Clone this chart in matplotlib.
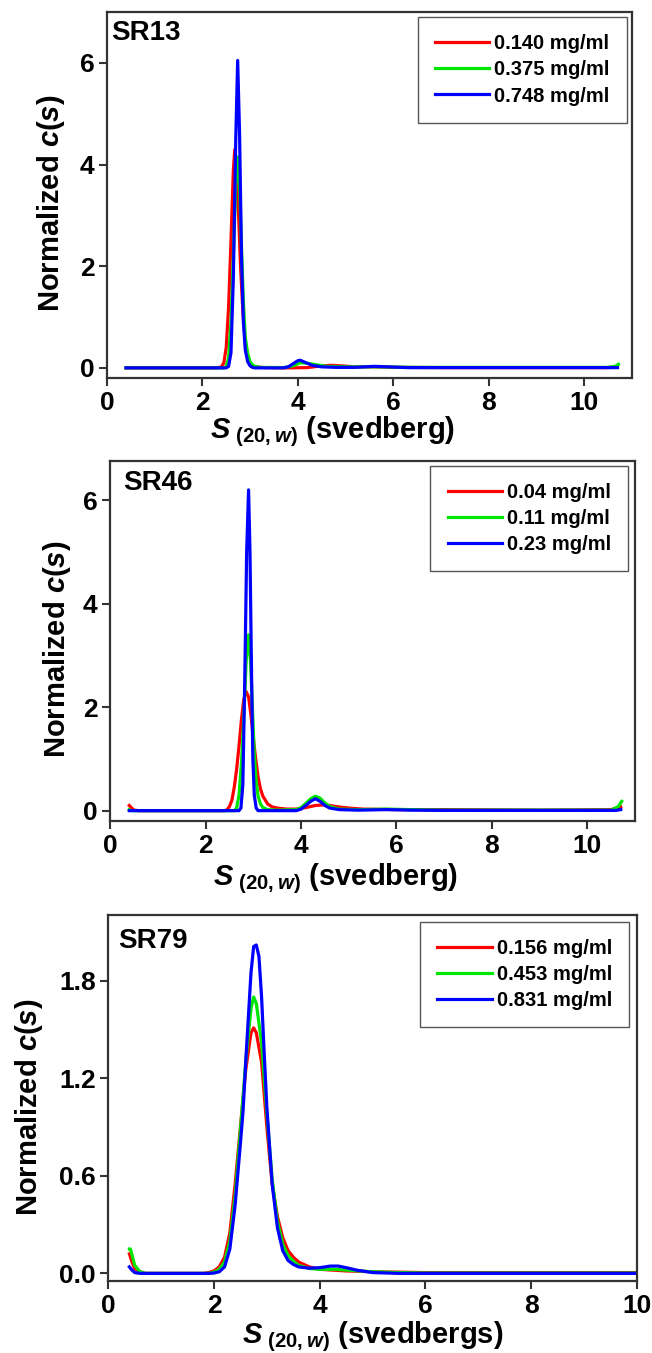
import matplotlib
matplotlib.use("Agg")
import matplotlib.pyplot as plt
from matplotlib import font_manager
from matplotlib.ticker import FormatStrFormatter

# ---------------- DATA ----------------
# Panel SR13
sr13_labels = ["0.140 mg/ml", "0.375 mg/ml", "0.748 mg/ml"]
sr13_red_s = [0.4, 2.3, 2.4, 2.45, 2.5, 2.55, 2.6, 2.65, 2.68, 2.72, 2.76, 2.8, 2.85, 2.9, 2.95, 3.0, 3.1,
              3.3, 3.8, 4.2, 4.5, 4.7, 4.9, 5.2, 5.6, 6.0, 7.0, 10.5, 10.7]
sr13_red_c = [0.0, 0.0, 0.02, 0.1, 0.4, 1.2, 2.5, 3.9, 4.3, 3.9, 3.0, 2.0, 1.1, 0.5, 0.2, 0.07, 0.02,
              0.005, 0.0, 0.005, 0.04, 0.05, 0.04, 0.02, 0.02, 0.01, 0.005, 0.005, 0.02]
sr13_green_s = [0.4, 2.45, 2.5, 2.55, 2.6, 2.65, 2.7, 2.74, 2.78, 2.82, 2.86, 2.9, 2.95, 3.0, 3.05, 3.1,
                3.2, 3.7, 3.9, 4.05, 4.2, 4.4, 4.6, 5.0, 5.6, 6.5, 10.5, 10.65, 10.72]
sr13_green_c = [0.0, 0.0, 0.03, 0.2, 0.9, 2.2, 3.6, 4.15, 3.6, 2.4, 1.3, 0.6, 0.28, 0.12, 0.06, 0.03,
                0.01, 0.005, 0.04, 0.1, 0.09, 0.06, 0.03, 0.02, 0.02, 0.01, 0.01, 0.03, 0.07]
sr13_blue_s = [0.4, 2.5, 2.55, 2.6, 2.65, 2.7, 2.74, 2.78, 2.82, 2.86, 2.9, 2.95, 3.0, 3.05, 3.1,
               3.7, 3.8, 3.9, 4.0, 4.05, 4.15, 4.3, 4.5, 4.8, 5.2, 5.6, 5.9, 6.3, 10.7]
sr13_blue_c = [0.0, 0.0, 0.03, 0.3, 1.8, 4.5, 6.05, 4.6, 2.2, 0.9, 0.35, 0.12, 0.04, 0.01, 0.0,
               0.0, 0.02, 0.08, 0.14, 0.15, 0.11, 0.05, 0.02, 0.01, 0.01, 0.03, 0.02, 0.005, 0.005]

# Panel SR46
sr46_labels = ["0.04 mg/ml", "0.11 mg/ml", "0.23 mg/ml"]
sr46_red_s = [0.4, 0.45, 0.5, 0.6, 2.4, 2.45, 2.5, 2.55, 2.6, 2.65, 2.7, 2.75, 2.8, 2.85, 2.9, 2.95,
              3.0, 3.05, 3.1, 3.15, 3.2, 3.3, 3.4, 3.5, 3.7, 3.9, 4.1, 4.3, 4.45, 4.6, 4.8, 5.0,
              5.3, 6.0, 7.0, 9.0, 10.5, 10.7]
sr46_red_c = [0.1, 0.05, 0.01, 0.0, 0.0, 0.02, 0.08, 0.2, 0.45, 0.8, 1.25, 1.75, 2.15, 2.3, 2.2, 1.85,
              1.4, 1.0, 0.65, 0.42, 0.28, 0.13, 0.07, 0.05, 0.03, 0.03, 0.06, 0.1, 0.11, 0.1, 0.07, 0.05,
              0.03, 0.02, 0.02, 0.01, 0.02, 0.07]
sr46_green_s = [0.4, 0.45, 2.6, 2.65, 2.7, 2.75, 2.8, 2.85, 2.9, 2.94, 2.98, 3.02, 3.06, 3.1, 3.15,
                3.2, 3.3, 3.5, 3.9, 4.0, 4.1, 4.2, 4.3, 4.4, 4.5, 4.6, 4.8, 5.2, 5.8, 6.3, 7.0,
                10.5, 10.65, 10.72]
sr46_green_c = [0.02, 0.0, 0.0, 0.05, 0.3, 0.9, 1.8, 2.9, 3.4, 2.9, 2.0, 1.1, 0.55, 0.28, 0.13,
                0.06, 0.02, 0.01, 0.02, 0.06, 0.14, 0.23, 0.28, 0.24, 0.15, 0.08, 0.03, 0.02, 0.03, 0.02, 0.01,
                0.01, 0.08, 0.18]
sr46_blue_s = [0.4, 2.7, 2.74, 2.78, 2.82, 2.86, 2.9, 2.93, 2.96, 2.99, 3.02, 3.06, 3.1, 3.9, 4.0,
               4.1, 4.2, 4.3, 4.4, 4.5, 4.6, 4.8, 5.2, 5.8, 6.3, 7.0, 10.6, 10.7]
sr46_blue_c = [0.0, 0.0, 0.05, 0.5, 2.5, 5.0, 6.2, 5.0, 2.8, 1.0, 0.3, 0.05, 0.0, 0.0, 0.03,
               0.1, 0.18, 0.23, 0.18, 0.1, 0.05, 0.02, 0.01, 0.02, 0.01, 0.005, 0.005, 0.02]

# Panel SR79
sr79_labels = ["0.156 mg/ml", "0.453 mg/ml", "0.831 mg/ml"]
sr79_red_s = [0.4, 0.45, 0.5, 0.6, 0.7, 1.8, 1.9, 2.0, 2.1, 2.2, 2.3, 2.4, 2.5, 2.6, 2.7, 2.75, 2.8,
              2.9, 3.0, 3.1, 3.2, 3.3, 3.4, 3.5, 3.6, 3.8, 4.0, 4.5, 5.0, 6.0, 10.0]
sr79_red_c = [0.12, 0.07, 0.03, 0.01, 0.0, 0.0, 0.005, 0.015, 0.04, 0.1, 0.25, 0.55, 0.9, 1.25, 1.48,
              1.51, 1.48, 1.3, 0.9, 0.55, 0.35, 0.22, 0.14, 0.1, 0.07, 0.04, 0.025, 0.015, 0.01, 0.005, 0.005]
sr79_green_s = [0.4, 0.42, 0.5, 0.6, 0.7, 1.9, 2.0, 2.1, 2.2, 2.3, 2.4, 2.5, 2.6, 2.7, 2.75, 2.8,
                2.9, 3.0, 3.1, 3.2, 3.3, 3.4, 3.5, 3.6, 3.8, 4.0, 4.3, 4.6, 5.0, 5.5, 6.0, 10.0]
sr79_green_c = [0.15, 0.15, 0.05, 0.01, 0.0, 0.0, 0.008, 0.025, 0.07, 0.2, 0.48, 0.88, 1.3, 1.63,
                1.7, 1.66, 1.42, 0.98, 0.58, 0.32, 0.18, 0.11, 0.075, 0.05, 0.03, 0.025, 0.025, 0.018,
                0.01, 0.005, 0.002, 0.002]
sr79_blue_s = [0.4, 0.45, 0.5, 0.6, 1.0, 1.5, 1.9, 2.0, 2.1, 2.2, 2.3, 2.4, 2.5, 2.55, 2.6, 2.7, 2.75,
               2.8, 2.85, 2.9, 2.95, 3.0, 3.1, 3.2, 3.3, 3.4, 3.5, 3.6, 3.8, 4.0, 4.2, 4.35, 4.5,
               4.7, 5.0, 5.5, 10.0]
sr79_blue_c = [0.04, 0.02, 0.005, 0.0, 0.0, 0.0, 0.0, 0.002, 0.01, 0.04, 0.15, 0.42, 0.8, 1.0, 1.3,
               1.85, 2.01, 2.02, 1.95, 1.7, 1.35, 1.02, 0.55, 0.28, 0.14, 0.08, 0.055, 0.04, 0.032,
               0.035, 0.045, 0.045, 0.035, 0.02, 0.005, 0.0, 0.0]

panel_names = ["SR13", "SR46", "SR79"]
x_units = ["(svedberg)", "(svedberg)", "(svedbergs)"]

# ---------------- STYLE ----------------
available = {f.name for f in font_manager.fontManager.ttflist}
fam = "Liberation Sans" if "Liberation Sans" in available else "DejaVu Sans"
plt.rcParams["font.family"] = [fam, "DejaVu Sans"]
plt.rcParams["font.weight"] = "bold"
plt.rcParams["mathtext.fontset"] = "custom"
plt.rcParams["mathtext.rm"] = f"{fam}:bold"
plt.rcParams["mathtext.bf"] = f"{fam}:bold"
plt.rcParams["mathtext.it"] = f"{fam}:italic:bold"

colors = ["#ff0000", "#00e600", "#0000ff"]
spine_col = "#333333"

fig = plt.figure(figsize=(6.52, 13.53), dpi=100)

# axes rectangles in figure fraction [left, bottom, width, height]
rects = [
    [0.164, 0.7206, 0.805, 0.2704],
    [0.169, 0.3932, 0.805, 0.2661],
    [0.166, 0.0532, 0.811, 0.2705],
]
xlims = [(0, 11), (0, 11), (0, 10)]
ylims = [(-0.2, 7.0), (-0.2, 6.76), (-0.047, 2.204)]
yticks = [[0, 2, 4, 6], [0, 2, 4, 6], [0.0, 0.6, 1.2, 1.8]]
ylab_coords = [(-0.076, 0.478), (-0.07, 0.478), (-0.12, 0.475)]
xlab_coords = [(0.43, -0.10), (0.43, -0.113), (0.50, -0.105)]
title_pos = [(0.008, 0.943), (0.025, 0.94), (0.019, 0.93)]
legend_anchor = [(0.99, 0.986), (0.987, 0.986), (0.985, 0.981)]

series = [
    [(sr13_red_s, sr13_red_c), (sr13_green_s, sr13_green_c), (sr13_blue_s, sr13_blue_c)],
    [(sr46_red_s, sr46_red_c), (sr46_green_s, sr46_green_c), (sr46_blue_s, sr46_blue_c)],
    [(sr79_red_s, sr79_red_c), (sr79_green_s, sr79_green_c), (sr79_blue_s, sr79_blue_c)],
]
labels = [sr13_labels, sr46_labels, sr79_labels]

for i in range(3):
    ax = fig.add_axes(rects[i])
    for (xs, ys), col, lab in zip(series[i], colors, labels[i]):
        ax.plot(xs, ys, color=col, lw=2.3, label=lab, solid_joinstyle="round")
    ax.set_xlim(*xlims[i])
    ax.set_ylim(*ylims[i])
    ax.set_xticks([0, 2, 4, 6, 8, 10])
    ax.set_yticks(yticks[i])
    if i == 2:
        ax.yaxis.set_major_formatter(FormatStrFormatter("%.1f"))
    for sp in ax.spines.values():
        sp.set_color(spine_col)
        sp.set_linewidth(1.6)
    ax.tick_params(direction="out", length=6, width=1.5, color=spine_col,
                   labelsize=19, pad=3)
    for t in ax.get_xticklabels() + ax.get_yticklabels():
        t.set_fontweight("bold")
    ax.set_ylabel(r"Normalized $c(s)$", fontsize=21, fontweight="bold")
    ax.yaxis.set_label_coords(*ylab_coords[i])
    ax.set_xlabel(r"$S_{\ \mathit{(20,w)}}$ " + x_units[i], fontsize=21, fontweight="bold")
    ax.xaxis.set_label_coords(*xlab_coords[i])
    ax.text(title_pos[i][0], title_pos[i][1], panel_names[i], transform=ax.transAxes,
            fontsize=20, fontweight="bold", ha="left", va="center")
    leg = ax.legend(loc="upper right", bbox_to_anchor=legend_anchor[i], borderaxespad=0,
                    fancybox=False, frameon=True, framealpha=1, edgecolor="#555555",
                    fontsize=14.5, handlelength=2.7, handletextpad=0.25, labelspacing=0.35,
                    borderpad=0.85)
    leg.get_frame().set_linewidth(1.0)
    for t in leg.get_texts():
        t.set_fontweight("bold")

fig.savefig("out.png", dpi=100)
